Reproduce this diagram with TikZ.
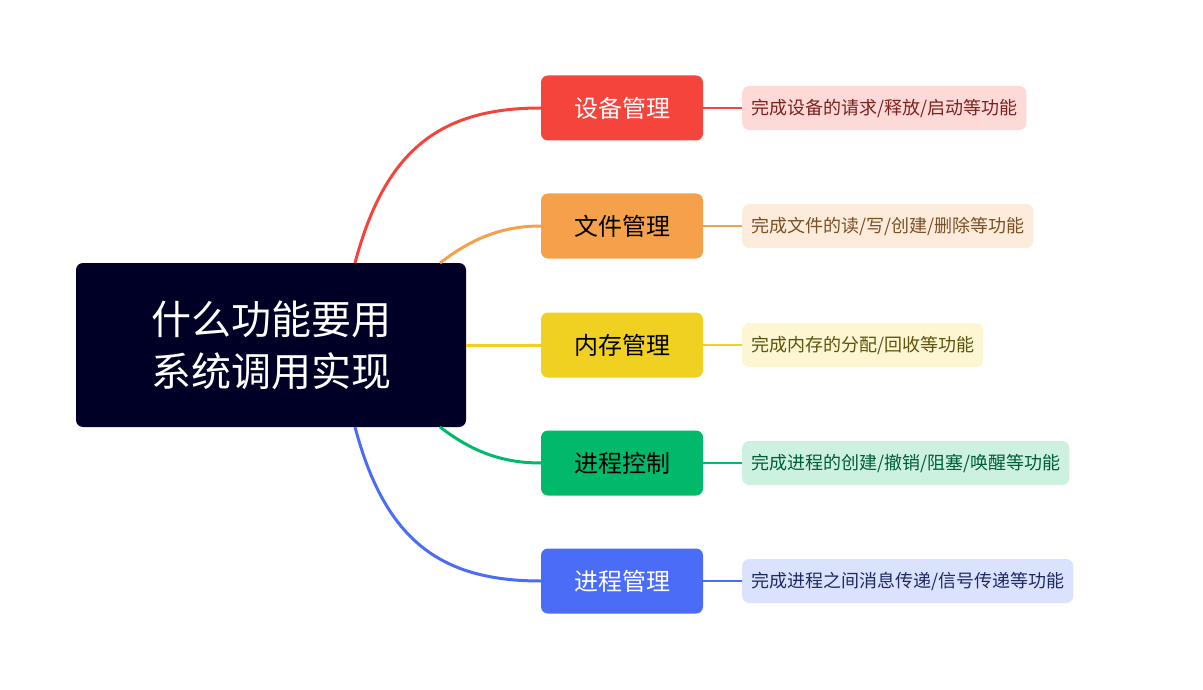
\documentclass[tikz,border=0pt]{standalone}
\usepackage{fontspec}
\setmainfont{Noto Sans CJK SC}
\begin{document}
\begin{tikzpicture}[x=1pt,y=-1pt,
 br/.style={rounded corners=7pt,minimum width=162pt,minimum height=65pt,inner sep=0pt,font=\fontsize{24}{28}\selectfont},
 lf/.style={rounded corners=7pt,minimum height=44pt,inner xsep=9pt,anchor=west,font=\fontsize{18}{22}\selectfont},
 ln/.style={line width=3pt}]
\useasboundingbox (0,0) rectangle (1203,690);
\definecolor{c1}{HTML}{F5443B}\definecolor{c2}{HTML}{F5A04A}\definecolor{c3}{HTML}{F0D020}
\definecolor{c4}{HTML}{00B96B}\definecolor{c5}{HTML}{4A6CF7}
\node[fill={rgb,255:red,0;green,0;blue,38},rounded corners=7pt,minimum width=390pt,minimum height=164pt,text=white,align=center,font=\fontsize{40}{52}\selectfont] (root) at (271,345) {什么功能要用\\系统调用实现};
\coordinate (s1) at (355,263); \coordinate (s2) at (440,263);
\coordinate (s4) at (440,427); \coordinate (s5) at (355,427);
\node[br,fill=c1,text=white] (b1) at (622,108) {设备管理};
\node[br,fill=c2,text=black] (b2) at (622,226) {文件管理};
\node[br,fill=c3,text=black] (b3) at (622,345) {内存管理};
\node[br,fill=c4,text=black] (b4) at (622,463) {进程控制};
\node[br,fill=c5,text=white] (b5) at (622,581) {进程管理};
\node[lf,fill=c1!20,text=c1!50!black] (l1) at (742,108) {完成设备的请求/释放/启动等功能};
\node[lf,fill=c2!20,text=c2!50!black] (l2) at (742,226) {完成文件的读/写/创建/删除等功能};
\node[lf,fill=c3!20,text=c3!40!black] (l3) at (742,345) {完成内存的分配/回收等功能};
\node[lf,fill=c4!20,text=c4!50!black] (l4) at (742,463) {完成进程的创建/撤销/阻塞/唤醒等功能};
\node[lf,fill=c5!20,text=c5!40!black] (l5) at (742,581) {完成进程之间消息传递/信号传递等功能};
\draw[ln,c1] (s1) .. controls (385,150) and (440,108) .. (b1.west);
\draw[ln,c2] (s2) .. controls (470,240) and (500,226) .. (b2.west);
\draw[ln,c3] (root.east) -- (b3.west);
\draw[ln,c4] (s4) .. controls (470,450) and (500,463) .. (b4.west);
\draw[ln,c5] (s5) .. controls (385,540) and (440,581) .. (b5.west);
\foreach \i/\c in {1/c1,2/c2,3/c3,4/c4,5/c5} \draw[line width=2.5pt,\c] (b\i.east) -- (l\i.west);
\end{tikzpicture}
\end{document}
